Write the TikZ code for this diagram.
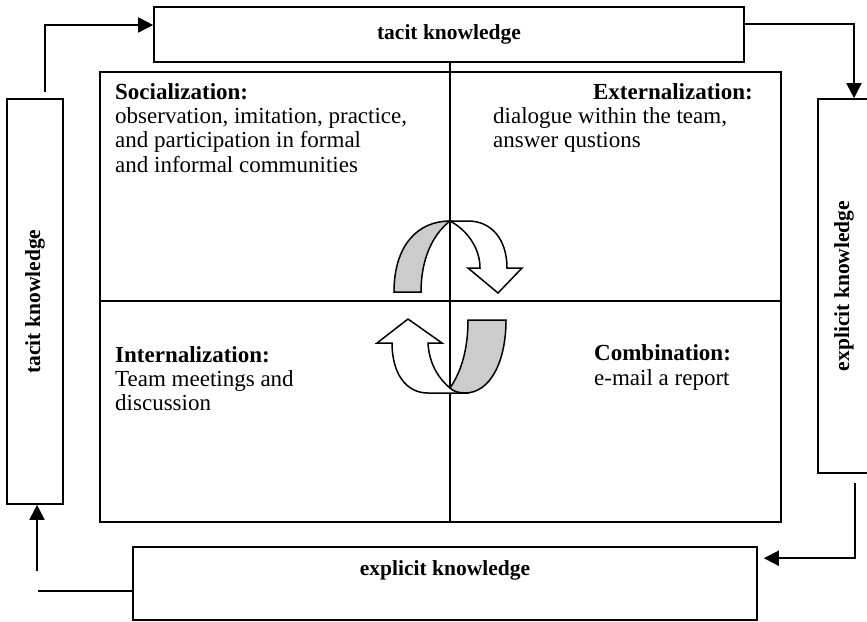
\documentclass[tikz,border=0pt]{standalone}
\usepackage{fontspec}
\setmainfont{Liberation Serif}
\usetikzlibrary{arrows.meta,calc}
\definecolor{piecegray}{RGB}{204,204,204}
\begin{document}
\begin{tikzpicture}[x=1pt,y=-1pt,
  box/.style={draw,line width=1.6pt,inner sep=0pt},
  conn/.style={line width=1.8pt},
  tipped/.style={conn,-{Triangle[length=15pt,width=15pt]}},
  lbl/.style={font=\fontsize{21.5}{24}\selectfont\bfseries,inner sep=0pt},
  body/.style={font=\fontsize{23}{24.3}\selectfont,align=left,inner sep=0pt},
  whitepiece/.style={fill=white,draw,line width=1.5pt,line join=miter},
  graypiece/.style={fill=piecegray,draw,line width=1.5pt,line join=miter},
  ]
\useasboundingbox (0,0) rectangle (867,621);
\clip (0,0) rectangle (867,621);
\fill[white] (0,0) rectangle (867,621);

% boxes
\node[box,minimum width=590pt,minimum height=55pt] (topbox) at (449,34.5) {};
\node[lbl] (toplbl) at (topbox.center) {tacit knowledge};
\node[box,minimum width=56pt,minimum height=405pt] (leftbox) at (35,301.5) {};
\node[lbl,rotate=90] (leftlbl) at (leftbox.center) {tacit knowledge};
\node[box,minimum width=52pt,minimum height=374pt] (rightbox) at (844,286) {};
\node[lbl,rotate=90] (rightlbl) at (rightbox.center) {explicit knowledge};
\node[box,minimum width=624pt,minimum height=73pt] (bottombox) at (445,583.5) {};
\node[lbl] (bottomlbl) at (445,570) {explicit knowledge};

% main square and cross
\node[box,line width=2pt,minimum width=681pt,minimum height=450pt] (square) at (440.5,297) {};
\coordinate (cross) at (450,301);
\draw[line width=1.8pt] (topbox.south -| cross) -- (square.south -| cross);
\draw[line width=1.8pt] (square.west |- cross) -- (square.east |- cross);

% quadrant texts (base anchor = baseline of last line)
\node[body,anchor=base west] (soc) at (115,172) {\textbf{Socialization:}\\observation, imitation, practice,\\and participation in formal\\and informal communities};
\node[body,anchor=base east] (exttitle) at (753,99) {\textbf{Externalization:}};
\node[body,anchor=base west] (ext) at (493,147.3) {dialogue within the team,\\answer qustions};
\node[body,anchor=base west] (int) at (115,410.6) {\textbf{Internalization:}\\Team meetings and\\discussion};
\node[body,anchor=base west] (comb) at (594,385) {\textbf{Combination:}\\e-mail a report};

% connectors
\coordinate (ltop) at ([xshift=10pt,yshift=6pt]leftbox.north);
\draw[tipped] (ltop) |- ([yshift=9.5pt]topbox.west);
\draw[tipped] ([yshift=10.5pt]topbox.east) -| ([xshift=10pt]rightbox.north);
\coordinate (rbot) at ([xshift=11pt,yshift=-9pt]rightbox.south);
\draw[tipped] (rbot) |- ([xshift=6pt,yshift=-12pt]bottombox.north east);
\coordinate (bfree) at (38,591);
\draw[conn] ([yshift=-7.5pt]bottombox.west) -- (bfree);
\coordinate (lfree) at (37,571);
\draw[tipped] (lfree) -- ([xshift=2pt]leftbox.south);

% upper curved arrow
\filldraw[whitepiece] (450,221) -- (468,221) .. controls (492,221) and (507,240) .. (507,268)
  -- (522,268) -- (498,293) -- (468,268) -- (480,268)
  .. controls (480,248) and (467,230) .. (450,221) -- cycle;
\filldraw[graypiece] (394,292) -- (421,292) .. controls (421,260) and (432,235) .. (450,221)
  .. controls (418,221) and (394,245) .. (394,292) -- cycle;

% lower curved arrow
\filldraw[whitepiece] (392,343) -- (377,343) -- (408,319) -- (442,343) -- (428,343)
  .. controls (429,363) and (438,378) .. (450,388) -- (465,393) -- (428,393)
  .. controls (405,393) and (392,372) .. (392,343) -- cycle;
\filldraw[graypiece] (468,320) -- (506,320) .. controls (506,362) and (490,393) .. (465,393)
  .. controls (458,393) and (453,391) .. (450,388)
  .. controls (461,372) and (468,350) .. (468,320) -- cycle;
\end{tikzpicture}
\end{document}
